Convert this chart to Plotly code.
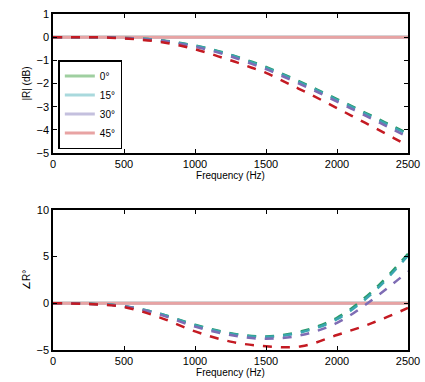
import plotly.graph_objects as go
from plotly.subplots import make_subplots

freq_mag = [0, 100, 200, 300, 400, 500, 600, 700, 800, 900, 1000, 1100, 1200, 1300,
            1400, 1500, 1600, 1700, 1800, 1900, 2000, 2100, 2200, 2300, 2400, 2500]
mag_0 = [0, 0, 0, 0, -0.01, -0.03, -0.06, -0.1, -0.16, -0.25, -0.36, -0.5, -0.66, -0.85,
         -1.06, -1.28, -1.54, -1.81, -2.09, -2.38, -2.67, -2.96, -3.26, -3.56, -3.86, -4.15]
mag_15 = [0, 0, 0, 0, -0.01, -0.03, -0.06, -0.1, -0.17, -0.26, -0.37, -0.51, -0.68, -0.87,
          -1.09, -1.31, -1.57, -1.84, -2.12, -2.41, -2.71, -3.0, -3.3, -3.6, -3.9, -4.2]
mag_30 = [0, 0, 0, 0, -0.01, -0.04, -0.07, -0.12, -0.19, -0.29, -0.41, -0.56, -0.73, -0.93,
          -1.15, -1.38, -1.64, -1.91, -2.19, -2.48, -2.78, -3.08, -3.38, -3.69, -4.0, -4.3]
mag_45 = [0, 0, 0, 0, -0.02, -0.05, -0.1, -0.16, -0.25, -0.37, -0.52, -0.7, -0.9, -1.1,
          -1.32, -1.54, -1.83, -2.13, -2.43, -2.74, -3.06, -3.38, -3.7, -4.02, -4.35, -4.68]

freq_ph = [0, 250, 500, 750, 1000, 1250, 1500, 1750, 2000, 2250, 2500]
ph_0 = [0, -0.05, -0.3, -1.1, -2.3, -3.2, -3.55, -3.0, -1.55, 1.3, 5.3]
ph_15 = [0, -0.05, -0.3, -1.1, -2.35, -3.25, -3.6, -3.1, -1.7, 1.1, 5.1]
ph_30 = [0, -0.06, -0.33, -1.2, -2.5, -3.4, -3.8, -3.4, -2.1, 0.4, 3.4]
ph_45 = [0, -0.08, -0.4, -1.5, -3.0, -4.1, -4.6, -4.6, -3.4, -2.1, -0.5]

labels = ["0°", "15°", "30°", "45°"]
light_colors = ["#9fcfa0", "#a9d9dd", "#c4c0de", "#e8a3a3"]
dark_colors = ["#2a9a6a", "#3aa6b0", "#7e6cb4", "#c41a22"]

fig = make_subplots(rows=2, cols=1, vertical_spacing=0.17)

mags = [mag_0, mag_15, mag_30, mag_45]
phs = [ph_0, ph_15, ph_30, ph_45]

for i in range(4):
    fig.add_trace(go.Scatter(x=[freq_mag[0], freq_mag[-1]], y=[0, 0], mode="lines",
                             line=dict(color=light_colors[i], width=3),
                             name=labels[i], showlegend=True), row=1, col=1)
    fig.add_trace(go.Scatter(x=[freq_ph[0], freq_ph[-1]], y=[0, 0], mode="lines",
                             line=dict(color=light_colors[i], width=3),
                             name=labels[i], showlegend=False), row=2, col=1)

for i in range(4):
    fig.add_trace(go.Scatter(x=freq_mag, y=mags[i], mode="lines",
                             line=dict(color=dark_colors[i], width=2.5, dash="dash", shape="spline"),
                             showlegend=False), row=1, col=1)
    fig.add_trace(go.Scatter(x=freq_ph, y=phs[i], mode="lines",
                             line=dict(color=dark_colors[i], width=2.5, dash="dash", shape="spline"),
                             showlegend=False), row=2, col=1)

axis_common = dict(showline=True, linecolor="black", linewidth=1.5, mirror="ticks",
                   ticks="inside", ticklen=4, tickcolor="black", showgrid=False,
                   zeroline=False, automargin=False, tickfont=dict(size=11, color="black"))

fig.update_xaxes(range=[0, 2500], tickvals=[0, 500, 1000, 1500, 2000, 2500],
                 title=dict(text="Frequency (Hz)", font=dict(size=10, color="black"), standoff=2),
                 **axis_common)
fig.update_yaxes(range=[-5, 1], tickvals=[1, 0, -1, -2, -3, -4, -5],
                 title=dict(text="|R| (dB)", font=dict(size=10, color="black"), standoff=4),
                 row=1, col=1, **axis_common)
fig.update_yaxes(range=[-5, 10], tickvals=[10, 5, 0, -5],
                 title=dict(text="∠R°", font=dict(size=10, color="black"), standoff=4),
                 row=2, col=1, **axis_common)

fig.update_layout(
    width=425, height=382,
    margin=dict(l=53, r=17, t=14, b=32),
    paper_bgcolor="white", plot_bgcolor="white",
    font=dict(family="Liberation Sans, Arial, sans-serif", color="black"),
    legend=dict(x=0.015, y=0.598, xref="paper", yref="paper", xanchor="left", yanchor="bottom",
                bordercolor="black", borderwidth=1.5, bgcolor="white",
                font=dict(size=10, color="black"), tracegroupgap=0, itemwidth=30),
)
fig.update_xaxes(domain=[0, 1])
fig.layout.yaxis.domain = [0.586, 1]
fig.layout.yaxis2.domain = [0, 0.417]

fig.write_html("out.html")
